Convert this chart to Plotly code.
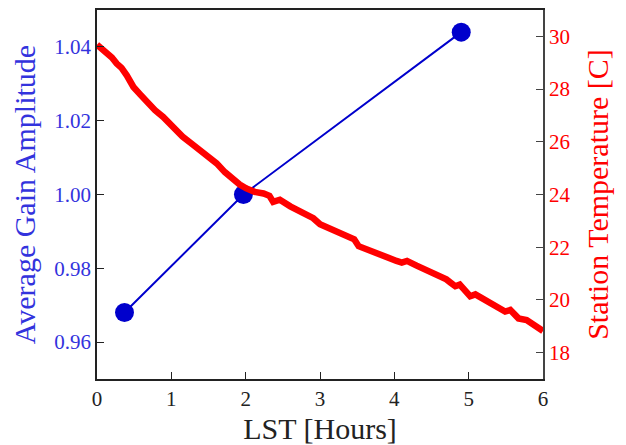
import plotly.graph_objects as go

# Data
lst_gain = [0.37, 1.97, 4.90]
gain_amp = [0.968, 1.000, 1.044]

lst_temp = [0.0, 0.10, 0.20, 0.265, 0.33, 0.40, 0.49, 0.58, 0.67, 0.78, 0.89, 1.03, 1.15,
            1.30, 1.40, 1.48, 1.61, 1.72, 1.83, 1.92, 2.01, 2.12, 2.24, 2.32, 2.37, 2.46,
            2.60, 2.75, 2.91, 3.00, 3.15, 3.27, 3.40, 3.46, 3.52, 3.64, 3.76, 3.90, 4.03,
            4.10, 4.17, 4.30, 4.42, 4.52, 4.62, 4.70, 4.76, 4.82, 4.88, 4.95, 5.02, 5.09,
            5.20, 5.29, 5.40, 5.49, 5.56, 5.62, 5.67, 5.78, 5.88, 5.98, 6.0]
temp_c = [29.68, 29.45, 29.20, 28.97, 28.80, 28.52, 28.08, 27.80, 27.51, 27.20, 26.94, 26.50,
          26.20, 25.87, 25.65, 25.49, 25.18, 24.85, 24.55, 24.38, 24.23, 24.10, 24.04, 23.95,
          23.72, 23.80, 23.55, 23.30, 23.10, 22.87, 22.70, 22.55, 22.42, 22.30, 22.04, 21.90,
          21.73, 21.62, 21.48, 21.42, 21.48, 21.30, 21.15, 21.03, 20.90, 20.78, 20.65, 20.52,
          20.58, 20.35, 20.14, 20.21, 20.02, 19.88, 19.72, 19.56, 19.62, 19.42, 19.30, 19.24,
          19.05, 18.86, 18.82]

x_ticks = [0, 1, 2, 3, 4, 5, 6]
gain_ticks = [0.96, 0.98, 1.00, 1.02, 1.04]
gain_labels = ["0.96", "0.98", "1.00", "1.02", "1.04"]
temp_ticks = [18, 20, 22, 24, 26, 28, 30]

BLUE = "#0000cc"
RED = "#ff0000"
FONT = "Liberation Serif"

fig = go.Figure()
fig.add_trace(go.Scatter(
    x=lst_gain, y=gain_amp, mode="lines+markers",
    line=dict(color=BLUE, width=2),
    marker=dict(color=BLUE, size=19),
    yaxis="y", showlegend=False,
))
fig.add_trace(go.Scatter(
    x=lst_temp, y=temp_c, mode="lines",
    line=dict(color=RED, width=6.5),
    yaxis="y2", showlegend=False,
))

# The page body adds an 8px offset, so the figure is sized to fit the window.
fig.update_layout(
    width=618, height=437,
    margin=dict(l=89, r=83, t=2, b=66, autoexpand=False),
    plot_bgcolor="white", paper_bgcolor="white",
    font=dict(family=FONT, size=21, color="#222222"),
    xaxis=dict(
        range=[0, 6], tickvals=x_ticks, ticks="inside", ticklen=7,
        tickcolor="#222222", showline=True, linecolor="#222222", linewidth=1.5,
        mirror=True, showgrid=False, zeroline=False,
        title=dict(text="LST [Hours]", font=dict(size=30, color="#222222"), standoff=13),
        tickfont=dict(size=21, color="#222222"),
        automargin=False,
    ),
    yaxis=dict(
        range=[0.95, 1.05], tickvals=gain_ticks, ticktext=gain_labels,
        ticks="inside", ticklen=7, tickcolor="#222222",
        showline=True, linecolor="#222222", linewidth=1.5,
        showgrid=False, zeroline=False,
        tickfont=dict(size=21, color="#3333dd"),
        title=dict(text="Average Gain Amplitude", font=dict(size=30, color="#3333dd"), standoff=10),
        automargin=False,
    ),
    yaxis2=dict(
        range=[17, 31], tickvals=temp_ticks, overlaying="y", side="right",
        ticks="inside", ticklen=7, tickcolor="#444444",
        showline=True, linecolor="#444444", linewidth=1.5,
        showgrid=False, zeroline=False,
        tickfont=dict(size=21, color=RED),
        title=dict(text="Station Temperature [C]", font=dict(size=30, color=RED), standoff=18),
        automargin=False,
    ),
)

fig.write_html("out.html")
